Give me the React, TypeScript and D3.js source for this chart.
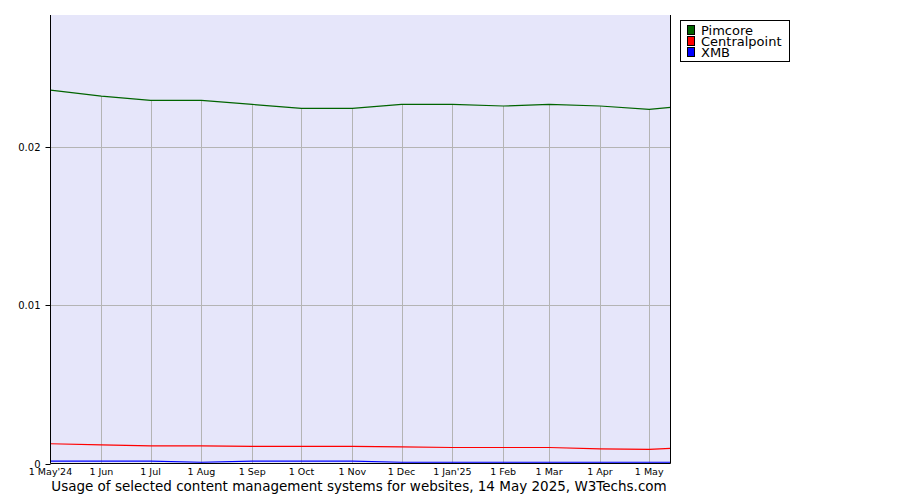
import React from "react";
import * as d3 from "d3";

const dates = [
  "2024-05-01", "2024-06-01", "2024-07-01", "2024-08-01", "2024-09-01", "2024-10-01",
  "2024-11-01", "2024-12-01", "2025-01-01", "2025-02-01", "2025-03-01", "2025-04-01",
  "2025-05-01", "2025-05-14",
];
const pimcore = [0.02361, 0.02323, 0.02296, 0.02296, 0.0227, 0.02245, 0.02245, 0.0227, 0.0227, 0.0226, 0.0227, 0.0226, 0.02239, 0.02251];
const centralpoint = [0.00125, 0.00118, 0.00112, 0.00112, 0.00108, 0.00108, 0.00108, 0.00105, 0.00101, 0.00101, 0.00101, 0.00093, 0.00089, 0.00095];
const xmb = [0.00015, 0.00015, 0.00015, 0.00008, 0.00015, 0.00015, 0.00015, 0.00008, 0.00008, 0.00008, 0.00008, 0.00008, 0.00008, 0.00008];
const xTickDates = dates.slice(0, 13);
const xTickLabels = ["1 May'24", "1 Jun", "1 Jul", "1 Aug", "1 Sep", "1 Oct", "1 Nov", "1 Dec", "1 Jan'25", "1 Feb", "1 Mar", "1 Apr", "1 May"];
const yTicks = [0, 0.01, 0.02];
const yTickLabels = ["0", "0.01", "0.02"];
const seriesNames = ["Pimcore", "Centralpoint", "XMB"];
const seriesColors = ["#006400", "#ff0000", "#0000ff"];
const title = "Usage of selected content management systems for websites, 14 May 2025, W3Techs.com";

export default function App() {
  const W = 900, H = 500;
  const left = 50.5, right = 670.5, top = 15, bottom = 463.5;
  const parse = d3.timeParse("%Y-%m-%d");
  const ds = dates.map((d) => parse(d) as Date);
  const x = d3.scaleTime().domain([ds[0], ds[ds.length - 1]]).range([left, right]);
  const y = d3.scaleLinear().domain([0, 0.028354]).range([bottom, top]);
  const all = [pimcore, centralpoint, xmb];
  const line = d3.line<number>().x((_, i) => x(ds[i])).y((v) => y(v));
  const font = "DejaVu Sans, Verdana, sans-serif";
  return (
    <svg width={W} height={H} style={{ position: "absolute", left: 0, top: 0 }} fontFamily={font}>
      <rect x={left} y={top} width={right - left} height={bottom - top} fill="#e6e6fa" />
      {yTicks.slice(1).map((t) => (
        <line key={t} x1={left} x2={right} y1={Math.round(y(t)) + 0.5} y2={Math.round(y(t)) + 0.5} stroke="#b4b4b4" strokeWidth={1} />
      ))}
      {xTickDates.slice(1).map((d) => {
        const i = dates.indexOf(d);
        const xx = Math.round(x(ds[i])) + 0.5;
        return <line key={d} x1={xx} x2={xx} y1={bottom} y2={y(pimcore[i])} stroke="#b4b4b4" strokeWidth={1} />;
      })}
      {all.map((s, k) => (
        <path key={k} d={line(s) || ""} fill="none" stroke={seriesColors[k]} strokeWidth={1.2} />
      ))}
      <line x1={left} x2={left} y1={top} y2={bottom} stroke="#000" />
      <line x1={right} x2={right} y1={top} y2={bottom} stroke="#000" />
      <line x1={left} x2={right} y1={bottom} y2={bottom} stroke="#000" />
      {yTicks.map((t, i) => (
        <g key={t}>
          <line x1={left - 5} x2={left} y1={Math.round(y(t)) + 0.5} y2={Math.round(y(t)) + 0.5} stroke="#000" />
          <text x={left - 10} y={y(t) + 4} fontSize={10} textAnchor="end" fill="#000">{yTickLabels[i]}</text>
        </g>
      ))}
      {xTickDates.map((d, i) => (
        <text key={d} x={x(parse(d) as Date)} y={475} fontSize={9.5} textAnchor="middle" fill="#000">{xTickLabels[i]}</text>
      ))}
      <text x={359} y={491} fontSize={13.5} textAnchor="middle" fill="#000">{title}</text>
      <rect x={680.5} y={20.5} width={109} height={41} fill="#fff" stroke="#000" />
      {seriesNames.map((n, i) => (
        <g key={n}>
          <rect x={687.5} y={25.5 + i * 11} width={7} height={9} fill={seriesColors[i]} stroke="#000" />
          <text x={701} y={34.5 + i * 11} fontSize={13} fill="#000">{n}</text>
        </g>
      ))}
    </svg>
  );
}
